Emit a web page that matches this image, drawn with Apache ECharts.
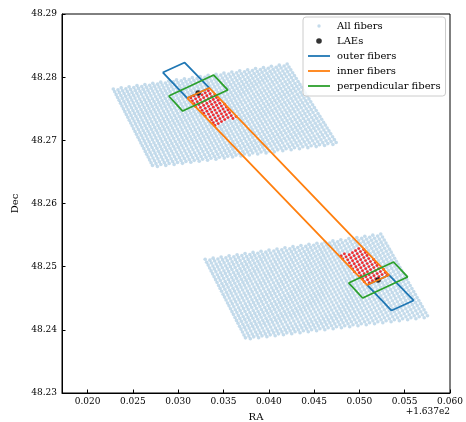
<!DOCTYPE html>
<html>
<head>
<meta charset="utf-8">
<script src="https://cdn.jsdelivr.net/npm/echarts@6/dist/echarts.min.js"></script>
<style>
    html, body { margin: 0; padding: 0; background: #fff; }
    #fiberChart { width: 466px; height: 422px; }
</style>
</head>
<body>
<div id="fiberChart"></div>
<script>
// RA is plotted as offset from 163.7 deg (matplotlib offset text +1.637e2)

// IFU footprints: corners left, top, right, bottom
const ifuTop       = [[0.02284, 48.27813], [0.04203, 48.28208], [0.04754, 48.26942], [0.02725, 48.26578]];
const ifuBottom    = [[0.03298, 48.25117], [0.05236, 48.25517], [0.05761, 48.24199], [0.03751, 48.23850]];
const fiberColumns = 45;   // stripes across an IFU
const fiberRows    = 28;   // fibers along a stripe

const laeRA  = [0.03221, 0.05207];
const laeDec = [48.27749, 48.24789];

const outerTopRA     = [0.02830, 0.03072, 0.03343, 0.03100, 0.02830];
const outerTopDec    = [48.28074, 48.28232, 48.27829, 48.27670, 48.28074];
const outerBottomRA  = [0.05085, 0.05328, 0.05598, 0.05355, 0.05085];
const outerBottomDec = [48.24710, 48.24868, 48.24465, 48.24306, 48.24710];

const innerRA  = [0.03100, 0.03343, 0.05328, 0.05085, 0.03100];
const innerDec = [48.27670, 48.27829, 48.24868, 48.24710, 48.27670];

const perpTopRA     = [0.02896, 0.03392, 0.03547, 0.03050, 0.02896];
const perpTopDec    = [48.27702, 48.28034, 48.27797, 48.27464, 48.27702];
const perpBottomRA  = [0.04881, 0.05377, 0.05532, 0.05036, 0.04881];
const perpBottomDec = [48.24742, 48.25074, 48.24837, 48.24504, 48.24742];

// inner fibers that get flagged red (near each LAE)
const redZoneTop    = [[0.03100, 48.27670], [0.03343, 48.27829], [0.03651, 48.27369], [0.03409, 48.27211]];
const redZoneBottom = [[0.05085, 48.24710], [0.05328, 48.24868], [0.05019, 48.25327], [0.04776, 48.25169]];

const xTicks = [0.020, 0.025, 0.030, 0.035, 0.040, 0.045, 0.050, 0.055, 0.060];

const serif = 'DejaVu Serif';

document.addEventListener('DOMContentLoaded', () => {

    const chart = echarts.init(document.getElementById('fiberChart'));

    function zip(xs, ys) {
        return xs.map((x, i) => [x, ys[i]]);
    }

    function fiberGrid(corners) {
        const [a, b, c, d] = corners;
        const pts = [];
        for (let i = 0; i < fiberColumns; i++) {
            const u = i / (fiberColumns - 1);
            for (let j = 0; j < fiberRows; j++) {
                const v = (j + (i % 2) * 0.5) / (fiberRows - 0.5);
                const w = [(1 - u) * (1 - v), u * (1 - v), u * v, (1 - u) * v];
                pts.push([
                    w[0] * a[0] + w[1] * b[0] + w[2] * c[0] + w[3] * d[0],
                    w[0] * a[1] + w[1] * b[1] + w[2] * c[1] + w[3] * d[1]
                ]);
            }
        }
        return pts;
    }

    function inside(p, poly) {
        let hit = false;
        for (let i = 0, j = poly.length - 1; i < poly.length; j = i++) {
            const [xi, yi] = poly[i], [xj, yj] = poly[j];
            if ((yi > p[1]) !== (yj > p[1]) &&
                p[0] < (xj - xi) * (p[1] - yi) / (yj - yi) + xi) hit = !hit;
        }
        return hit;
    }

    const allFibers = fiberGrid(ifuTop).concat(fiberGrid(ifuBottom));
    const redFibers = allFibers.filter(p => inside(p, redZoneTop) || inside(p, redZoneBottom));

    const fiberColor = 'rgba(31,119,180,0.33)';
    const lineW = 1.8;

    // legend handles: the two corner moves keep the box 22x10 so the mark stays small
    const dotIcon  = r => `path://M0,0M22,10M${11 - r},5a${r},${r} 0 1,0 ${2 * r},0a${r},${r} 0 1,0 ${-2 * r},0Z`;
    const lineIcon = 'path://M0,0M22,10M0,4.1H22V5.9H0Z';

    function outline(name, color, data) {
        return {
            name: name, type: 'line', data: data, symbol: 'none',
            lineStyle: { color: color, width: lineW }, itemStyle: { color: color },
            z: 5, silent: true
        };
    }

    const option = {
        animation: false,
        backgroundColor: '#fff',
        textStyle: { fontFamily: serif },
        grid: { left: 62, right: 16, top: 14, bottom: 29, show: true,
                borderColor: '#000', borderWidth: 1, outerBoundsMode: 'none' },
        xAxis: {
            type: 'value', min: 0.01718, max: 0.060,
            name: 'RA', nameLocation: 'middle', nameGap: 19,
            nameTextStyle: { fontFamily: serif, fontSize: 10, color: '#000' },
            axisLine: { lineStyle: { color: '#000', width: 1 } },
            axisTick: { inside: true, length: 3.5, customValues: xTicks, lineStyle: { color: '#000' } },
            axisLabel: { customValues: xTicks, margin: 4, fontFamily: serif, fontSize: 9, color: '#000',
                         formatter: v => v.toFixed(3) },
            splitLine: { show: false }
        },
        yAxis: {
            type: 'value', min: 48.23, max: 48.29, interval: 0.01,
            name: 'Dec', nameLocation: 'middle', nameGap: 40,
            nameTextStyle: { fontFamily: serif, fontSize: 10, color: '#000' },
            axisLine: { show: true, lineStyle: { color: '#000', width: 1 } },
            axisTick: { show: true, inside: true, length: 3.5, lineStyle: { color: '#000' } },
            axisLabel: { margin: 5, fontFamily: serif, fontSize: 9, color: '#000',
                         formatter: v => v.toFixed(2) },
            splitLine: { show: false }
        },
        legend: {
            orient: 'vertical', left: 303, top: 17, padding: [4, 5, 5, 5],
            itemWidth: 22, itemHeight: 10, itemGap: 5,
            backgroundColor: 'rgba(255,255,255,0.8)', borderColor: '#cccccc',
            borderWidth: 1, borderRadius: 3,
            textStyle: { fontFamily: serif, fontSize: 10, color: '#000', lineHeight: 10,
                         padding: [0, 0, 0, 2] },
            data: [
                { name: 'All fibers', icon: dotIcon(1.7), itemStyle: { color: fiberColor } },
                { name: 'LAEs', icon: dotIcon(2.8), itemStyle: { color: '#000' } },
                { name: 'outer fibers', icon: lineIcon },
                { name: 'inner fibers', icon: lineIcon },
                { name: 'perpendicular fibers', icon: lineIcon }
            ]
        },
        series: [
            { name: 'All fibers', type: 'scatter', data: allFibers, symbolSize: 3.6,
              itemStyle: { color: fiberColor }, silent: true, z: 2 },
            { name: 'inner flagged', type: 'scatter', data: redFibers, symbolSize: 2.8,
              itemStyle: { color: '#ff0000' }, silent: true, z: 3 },
            { name: 'LAEs', type: 'scatter', data: zip(laeRA, laeDec), symbolSize: 5.5,
              itemStyle: { color: '#000' }, silent: true, z: 4 },
            outline('outer fibers', '#1f77b4', zip(outerTopRA, outerTopDec)),
            outline('outer fibers', '#1f77b4', zip(outerBottomRA, outerBottomDec)),
            outline('inner fibers', '#ff7f0e', zip(innerRA, innerDec)),
            outline('perpendicular fibers', '#2ca02c', zip(perpTopRA, perpTopDec)),
            outline('perpendicular fibers', '#2ca02c', zip(perpBottomRA, perpBottomDec))
        ],
        graphic: [
            { type: 'text', right: 16, top: 407,
              style: { text: '+1.637e2', font: '9px "DejaVu Serif"', fill: '#000' } }
        ]
    };

    chart.setOption(option);
});
</script>
</body>
</html>
